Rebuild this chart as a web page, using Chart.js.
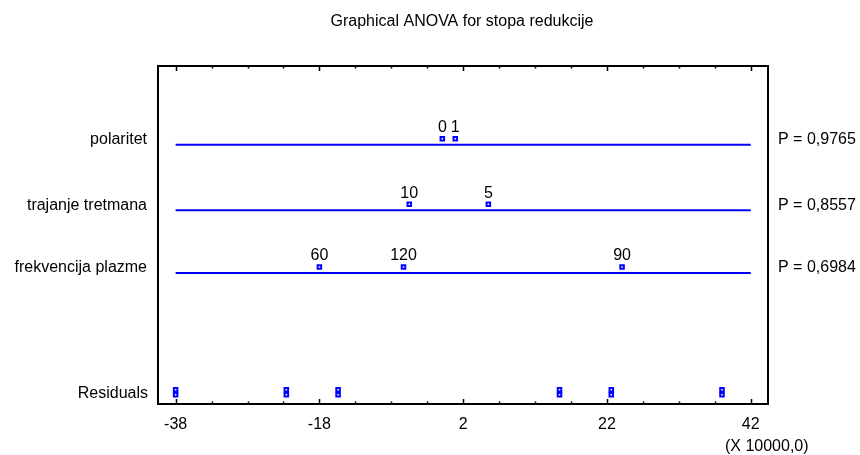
<!DOCTYPE html>
<html>
<head>
<meta charset="utf-8">
<script src="https://cdn.jsdelivr.net/npm/chart.js@4.4.1/dist/chart.umd.min.js"></script>
<style>
  html, body { margin: 0; padding: 0; background: #fff; }
  #wrap { width: 860px; height: 455px; }
</style>
</head>
<body>
<div id="wrap"><canvas id="anova"></canvas></div>
<script>
// values (x in units of 10000)
const title = 'Graphical ANOVA for stopa redukcije';
const factors = ['polaritet', 'trajanje tretmana', 'frekvencija plazme'];
const factorRows = [3.86, 2.84, 1.86];
const pValues = ['P = 0,9765', 'P = 0,8557', 'P = 0,6984'];
const levelNames = [['0', '1'], ['10', '5'], ['60', '120', '90']];
const levelEffects = [[-0.9, 0.9], [-5.5, 5.5], [-18.0, -6.3, 24.1]];
const residuals = [-38.0, -38.0, -22.6, -22.6, -15.4, -15.4, 15.4, 15.4, 22.6, 22.6, 38.0, 38.0];
const residualRow = 0;
const tickLabels = [-38, -18, 2, 22, 42];
const minorStep = 5;
const unitNote = '(X 10000,0)';

const BLUE = '#0000ff';
const FONT = '16px "Liberation Sans", Arial, sans-serif';
const MARK_LIFT = 0.094;   // markers sit just above their line
const STACK = 0.08;        // equal residuals are stacked

const datasets = [];

// one horizontal line per factor, spanning the tick range
factors.forEach((f, i) => {
    datasets.push({
        type: 'line',
        label: f,
        data: [
            { x: tickLabels[0], y: factorRows[i] },
            { x: tickLabels[tickLabels.length - 1], y: factorRows[i] }
        ],
        borderColor: BLUE,
        borderWidth: 2,
        pointRadius: 0,
        fill: false
    });
});

// level means
factors.forEach((f, i) => {
    datasets.push({
        type: 'scatter',
        label: f + ' levels',
        data: levelEffects[i].map((v, j) => ({ x: v, y: factorRows[i] + MARK_LIFT, name: levelNames[i][j] })),
        pointStyle: 'rect',
        pointRadius: 2.5,
        borderWidth: 2,
        borderColor: BLUE,
        backgroundColor: '#fff'
    });
});

// residuals, duplicates stacked
const seen = {};
datasets.push({
    type: 'scatter',
    label: 'Residuals',
    data: residuals.map(v => {
        const k = seen[v] || 0;
        seen[v] = k + 1;
        return { x: v, y: residualRow - STACK / 2 + k * STACK };
    }),
    pointStyle: 'rect',
    pointRadius: 2.5,
    borderWidth: 2,
    borderColor: BLUE,
    backgroundColor: '#fff'
});

const decor = {
    id: 'decor',
    afterDatasetsDraw(chart) {
        const { ctx, chartArea: a, scales: { x, y } } = chart;
        ctx.save();

        // frame
        ctx.strokeStyle = '#000';
        ctx.lineWidth = 2;
        ctx.strokeRect(a.left, a.top, a.right - a.left, a.bottom - a.top);

        // inner ticks, bottom and top
        ctx.lineWidth = 1.5;
        x.ticks.forEach(t => {
            const px = Math.round(x.getPixelForValue(t.value)) + 0.5;
            const len = t.major ? 5 : 2.5;
            ctx.beginPath();
            ctx.moveTo(px, a.bottom);
            ctx.lineTo(px, a.bottom - len);
            ctx.moveTo(px, a.top);
            ctx.lineTo(px, a.top + len);
            ctx.stroke();
        });

        ctx.font = FONT;
        ctx.fillStyle = '#000';

        // tick labels
        ctx.textAlign = 'center';
        ctx.textBaseline = 'middle';
        x.ticks.filter(t => t.major).forEach(t => {
            ctx.fillText(String(t.value), x.getPixelForValue(t.value), a.bottom + 21);
        });
        ctx.fillText(unitNote, x.getPixelForValue(tickLabels[tickLabels.length - 1]) + 16, a.bottom + 43);

        // title
        ctx.fillText(title, (a.left + a.right) / 2 - 1, 22);

        // factor names and P values
        factors.forEach((f, i) => {
            const py = y.getPixelForValue(factorRows[i]) - 5;
            ctx.textAlign = 'right';
            ctx.fillText(f, a.left - 11, py);
            ctx.textAlign = 'left';
            ctx.fillText(pValues[i], a.right + 10, py);
        });
        ctx.textAlign = 'right';
        ctx.fillText('Residuals', a.left - 10, y.getPixelForValue(residualRow) + 1);

        // level names above their markers
        ctx.textAlign = 'center';
        ctx.textBaseline = 'bottom';
        factors.forEach((f, i) => {
            levelEffects[i].forEach((v, j) => {
                const py = y.getPixelForValue(factorRows[i] + MARK_LIFT);
                ctx.fillText(levelNames[i][j], x.getPixelForValue(v), py - 3);
            });
        });

        ctx.restore();
    }
};

new Chart(document.getElementById('anova'), {
    data: { datasets },
    options: {
        responsive: true,
        maintainAspectRatio: false,
        animation: false,
        layout: { padding: { left: 158, top: 66, right: 92, bottom: 51 } },
        scales: {
            x: {
                type: 'linear',
                display: false,
                min: -40.45,
                max: 44.4,
                afterBuildTicks: scale => {
                    const first = tickLabels[0], last = tickLabels[tickLabels.length - 1];
                    const t = [];
                    for (let v = first; v <= last; v += minorStep) {
                        t.push({ value: v, major: tickLabels.includes(v) });
                    }
                    scale.ticks = t;
                }
            },
            y: {
                type: 'linear',
                display: false,
                min: -0.184,
                max: 5.09
            }
        },
        plugins: {
            legend: { display: false },
            tooltip: { enabled: false }
        }
    },
    plugins: [decor]
});
</script>
</body>
</html>
